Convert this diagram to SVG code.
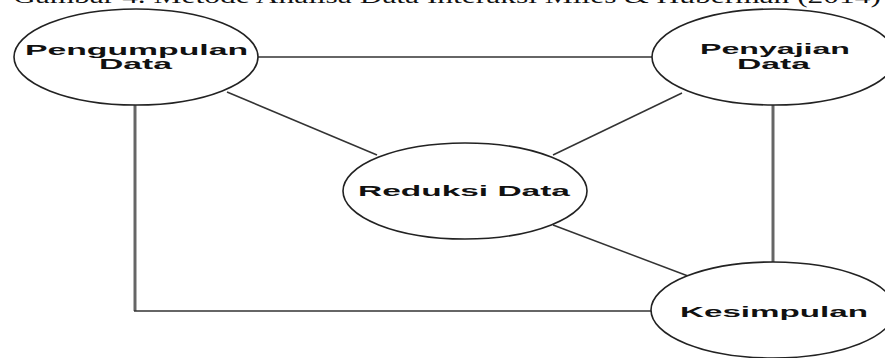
<svg xmlns="http://www.w3.org/2000/svg" width="885" height="358" viewBox="0 0 885 358">
<style>
.node ellipse{fill:#fff;stroke:#222;stroke-width:1.6}
.lbl{font-family:"Liberation Sans",Arial,sans-serif;font-weight:bold;font-size:15px;fill:#111}
.c line,.c polyline{fill:none;stroke:#333;stroke-width:1.5}
.c .v{stroke:#666;stroke-width:3}
.cap{font-family:"Liberation Serif","Times New Roman",serif;font-size:21px;fill:#111}
</style>
<rect width="885" height="358" fill="#fff"/>
<text class="cap" x="13" y="3" textLength="868" lengthAdjust="spacingAndGlyphs">Gambar 4. Metode Analisa Data Interaksi Miles &amp; Huberman (2014)</text>
<g class="c" id="connectors">
<line x1="258" y1="57" x2="652" y2="57"/>
<line x1="227" y1="92" x2="377" y2="155"/>
<line x1="682" y1="93" x2="553" y2="155"/>
<line x1="553" y1="225" x2="688" y2="276"/>
<line class="v" x1="773" y1="105" x2="773" y2="262"/>
<polyline class="v" points="135,105 135,311"/>
<line x1="134" y1="311" x2="651" y2="311"/>
</g>
<g class="node" id="pengumpulan">
<ellipse cx="136" cy="57" rx="122" ry="48"/>
<text class="lbl" x="25" y="55" textLength="223" lengthAdjust="spacingAndGlyphs">Pengumpulan</text>
<text class="lbl" x="99" y="69" textLength="73" lengthAdjust="spacingAndGlyphs">Data</text>
</g>
<g class="node" id="penyajian">
<ellipse cx="774" cy="57" rx="122" ry="48"/>
<text class="lbl" x="700" y="54" textLength="150" lengthAdjust="spacingAndGlyphs">Penyajian</text>
<text class="lbl" x="737" y="69" textLength="73" lengthAdjust="spacingAndGlyphs">Data</text>
</g>
<g class="node" id="reduksi">
<ellipse cx="465" cy="191" rx="122" ry="48"/>
<text class="lbl" x="358" y="196" textLength="212" lengthAdjust="spacingAndGlyphs">Reduksi Data</text>
</g>
<g class="node" id="kesimpulan">
<ellipse cx="773" cy="310" rx="122" ry="48"/>
<text class="lbl" x="680" y="317" textLength="188" lengthAdjust="spacingAndGlyphs">Kesimpulan</text>
</g>
</svg>
